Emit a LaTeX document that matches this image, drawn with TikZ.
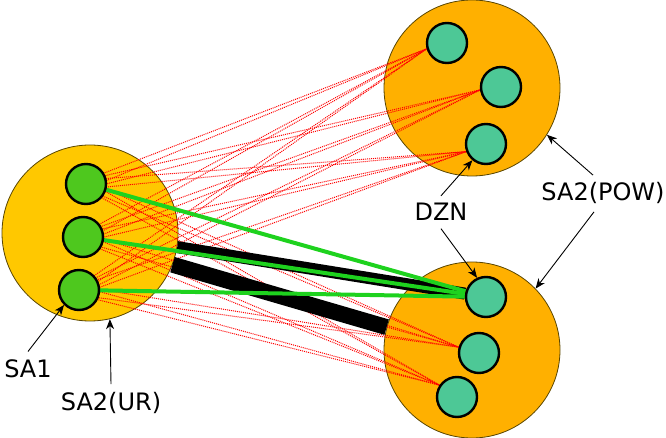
\documentclass[tikz,border=0pt]{standalone}
\usepackage{fontspec}
\setmainfont{DejaVu Sans}
\usetikzlibrary{arrows.meta}
\definecolor{urfill}{RGB}{255,200,0}
\definecolor{powfill}{RGB}{255,176,0}
\definecolor{rimcol}{RGB}{90,70,0}
\definecolor{safill}{RGB}{78,200,30}
\definecolor{dznfill}{RGB}{77,200,150}
\definecolor{linkgreen}{RGB}{30,210,30}
\pgfdeclarelayer{back}
\pgfdeclarelayer{mid}
\pgfsetlayers{back,mid,main}

\begin{document}
\begin{tikzpicture}[x=1pt,y=-1pt,
        zone/.style={circle,draw=rimcol,line width=0.8pt,fill=powfill,minimum size=176pt,inner sep=0pt},
        sa/.style={circle,draw,line width=2.4pt,fill=safill,minimum size=40pt,inner sep=0pt},
        dzn/.style={sa,fill=dznfill},
        link/.style={red,line width=1pt,dash pattern=on 1pt off 1pt},
        grn/.style={linkgreen,line width=4pt},
        band/.style={black,line width=12pt},
        pointer/.style={-{Stealth[length=10pt,width=8pt,inset=3pt]},line width=0.9pt},
        lbl/.style={inner sep=7.5pt,anchor=base,font=\fontsize{24pt}{28pt}\selectfont}]
    \useasboundingbox (0,0) rectangle (666,438);

    % the three big zones
    \begin{pgfonlayer}{back}
    \node[zone,fill=urfill] (L) at (90,233) {};
    \node[zone] (T) at (472,88) {};
    \node[zone] (B) at (472,350) {};
    \end{pgfonlayer}

    % small circles
    \node[sa] (l1) at (86,184) {};
    \node[sa] (l2) at (83,237) {};
    \node[sa] (l3) at (79,290) {};
    \node[dzn] (t1) at (447,43) {};
    \node[dzn] (t2) at (501,87) {};
    \node[dzn] (t3) at (486,144) {};
    \node[dzn] (b1) at (486,297) {};
    \node[dzn] (b2) at (479,353) {};
    \node[dzn] (b3) at (457,397) {};

    \begin{pgfonlayer}{mid}
    \foreach \s in {l1,l2,l3}
        \foreach \t/\a in {t1/196,t2/188,t3/201,b2/164,b3/146} {
            \draw[link] ([yshift=4pt]\s.center) -- (\t.\a);
            \draw[link] ([yshift=-5pt]\s.center) -- (\t.\a);
        }
    \draw[band] (L) -- (b1);
    \draw[band,line width=16pt] (L.-21) -- (B.165);
    \draw[grn] (l1) -- (b1);
    \draw[grn] (l2) -- (b1);
    \draw[grn] (l3) -- (b1);
    \end{pgfonlayer}

    % labels
    \node[lbl] (sa1) at (28,377) {SA1};
    \node[lbl] (ur) at (111,410) {SA2(UR)};
    \node[lbl] (dz) at (441,221) {DZN};
    \node[lbl] (pow) at (603,201) {SA2(POW)};

    \draw[pointer] (sa1.north) -- (l3.225);
    \draw[pointer] (ur.north) -- (L.-77);
    \draw[pointer] (dz.north) -- (t3.230);
    \draw[pointer] (dz.south) -- (b1.115);
    \draw[pointer] ([xshift=-10pt]pow.north) -- (T.-32);
    \draw[pointer] ([xshift=-9pt]pow.south) -- (B.44);
\end{tikzpicture}
\end{document}
